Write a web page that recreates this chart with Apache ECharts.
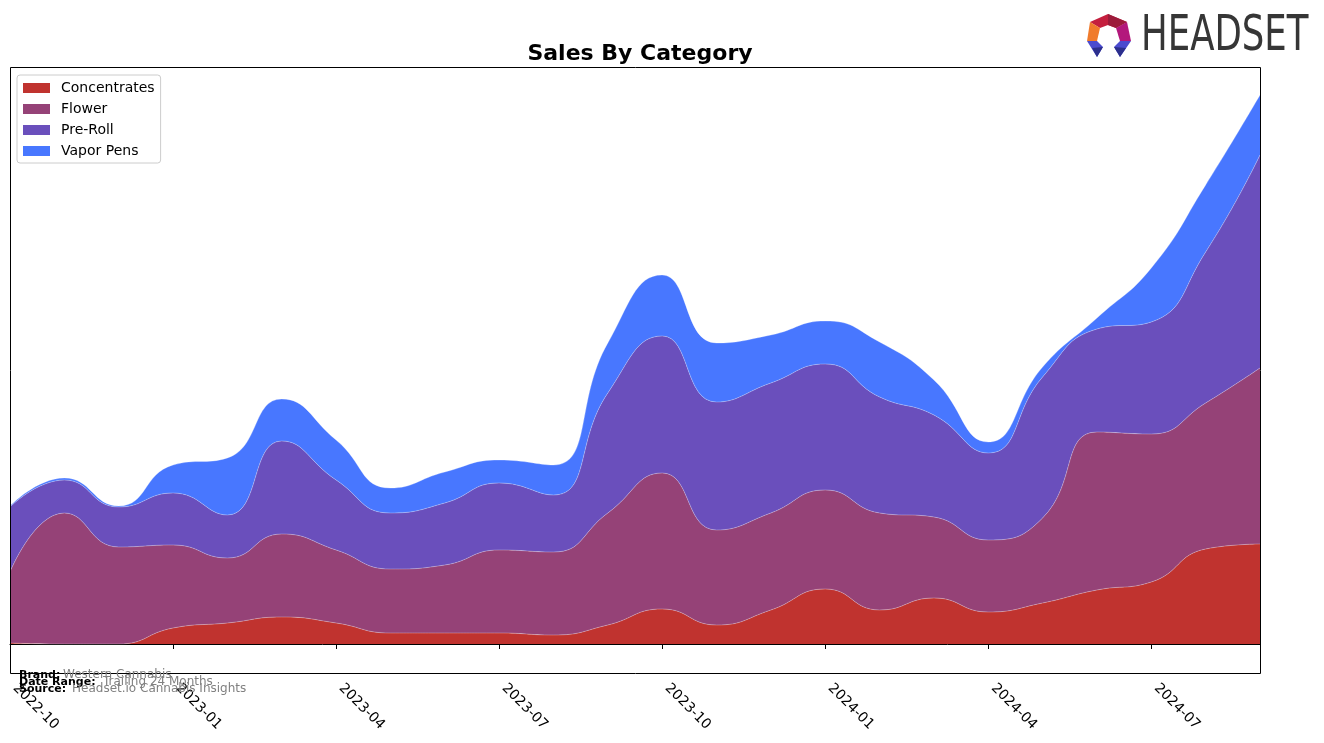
<!DOCTYPE html>
<html>
<head>
<meta charset="utf-8">
<script src="https://cdn.jsdelivr.net/npm/echarts@6/dist/echarts.min.js"></script>
<style>
html,body{margin:0;padding:0;background:#fff;}
#chart{width:1324px;height:743px;}
</style>
</head>
<body>
<div id="chart"></div>
<script>
const months = ['2022-10','2022-11','2022-12','2023-01','2023-02','2023-03','2023-04','2023-05','2023-06','2023-07','2023-08','2023-09','2023-10','2023-11','2023-12','2024-01','2024-02','2024-03','2024-04','2024-05','2024-06','2024-07','2024-08','2024-09'];
const tickLabels = ['2022-10','2023-01','2023-04','2023-07','2023-10','2024-01','2024-04','2024-07'];
const seriesNames = ['Concentrates','Flower','Pre-Roll','Vapor Pens'];
const concentrates = [1, 0, 0, 16, 21, 27, 21, 11, 11, 11, 9, 19, 35, 19, 34, 55, 34, 46, 32, 41, 54, 62, 95, 100];
const flower       = [71, 131, 97, 83, 65, 83, 73, 64, 68, 83, 83, 112, 136, 95, 97, 99, 97, 81, 72, 85, 158, 148, 146, 176];
const preRoll      = [65, 33, 40, 52, 43, 93, 70, 56, 62, 67, 57, 120, 137, 128, 130, 126, 116, 102, 87, 141, 103, 112, 151, 213];
const vaporPens    = [1, 2, 1, 28, 57, 42, 40, 25, 31, 23, 30, 50, 61, 59, 48, 43, 55, 35, 11, 10, 11, 54, 67, 60];

const colors = ['#c0332f', '#954277', '#6a4fbc', '#4877ff'];
const dataList = [concentrates, flower, preRoll, vaporPens];
const FONT = 'DejaVu Sans';

const chart = echarts.init(document.getElementById('chart'), null, {renderer: 'canvas'});

const series = seriesNames.map((name, i) => ({
  name: name,
  type: 'line',
  stack: 'total',
  smooth: 0.5,
  symbol: 'none',
  data: dataList[i],
  lineStyle: {width: 0.8, color: 'rgba(255,255,255,0.35)'},
  areaStyle: {color: colors[i], opacity: 1},
  itemStyle: {color: colors[i]},
  emphasis: {disabled: true},
  z: 2
}));

const option = {
  animation: false,
  backgroundColor: '#ffffff',
  title: {
    text: 'Sales By Category',
    left: 635,
    textAlign: 'center',
    top: 38,
    textStyle: {fontFamily: FONT, fontSize: 22, fontWeight: 'bold', color: '#000'}
  },
  legend: {
    orient: 'vertical',
    left: 17,
    top: 75,
    data: seriesNames,
    icon: 'rect',
    itemWidth: 27,
    itemHeight: 10,
    itemGap: 7,
    padding: [6, 6, 5, 6],
    backgroundColor: '#fff',
    borderColor: '#cccccc',
    borderWidth: 1,
    borderRadius: 3,
    selectedMode: false,
    textStyle: {fontFamily: FONT, fontSize: 14, color: '#000', padding: [0, 0, 0, 6]}
  },
  grid: {
    left: 10, right: 64, top: 67, bottom: 70,
    containLabel: false,
    show: false
  },
  xAxis: {
    type: 'category',
    data: months,
    boundaryGap: false,
    axisLine: {show: true, lineStyle: {color: '#000', width: 1}},
    axisTick: {
      show: true,
      length: 5,
      lineStyle: {color: '#000'},
      interval: (idx, val) => tickLabels.indexOf(val) >= 0
    },
    axisLabel: {
      show: true,
      rotate: -45,
      margin: 8,
      padding: [0, 0, 0, 7],
      fontFamily: FONT,
      fontSize: 14,
      color: '#000',
      interval: (idx, val) => tickLabels.indexOf(val) >= 0
    },
    splitLine: {show: false}
  },
  yAxis: {
    type: 'value',
    min: -29,
    max: 577,
    show: false,
    splitLine: {show: false}
  },
  series: series,
  graphic: [
    {
      type: 'rect', z: 100, silent: true,
      shape: {x: 10.5, y: 67.5, width: 1250, height: 606},
      style: {fill: null, stroke: '#000', lineWidth: 1}
    },
    {type: 'text', z: 101, left: 19, top: 670, style: {text: 'Brand:', font: 'bold 11px "DejaVu Sans"', fill: '#000'}},
    {type: 'text', z: 101, left: 63, top: 669, style: {text: 'Western Cannabis', font: '12px "DejaVu Sans"', fill: '#808080'}},
    {type: 'text', z: 101, left: 19, top: 677, style: {text: 'Date Range:', font: 'bold 11px "DejaVu Sans"', fill: '#000'}},
    {type: 'text', z: 101, left: 103, top: 676, style: {text: 'Trailing 24 Months', font: '12px "DejaVu Sans"', fill: '#808080'}},
    {type: 'text', z: 101, left: 19, top: 684, style: {text: 'Source:', font: 'bold 11px "DejaVu Sans"', fill: '#000'}},
    {type: 'text', z: 101, left: 72, top: 683, style: {text: 'Headset.io Cannabis Insights', font: '12px "DejaVu Sans"', fill: '#808080'}},
    // Headset logo
    {type: 'polygon', z: 101, silent: true, shape: {points: [[1090,22],[1108,14],[1127,22],[1116,28],[1108,25],[1100,28]]}, style: {fill: '#c41f3e'}},
    {type: 'polygon', z: 102, silent: true, shape: {points: [[1108,14],[1127,22],[1116,28],[1108,25]]}, style: {fill: '#9c1b3b'}},
    {type: 'polygon', z: 101, silent: true, shape: {points: [[1090,22],[1100,28],[1097,41],[1087,41]]}, style: {fill: '#f07b2c'}},
    {type: 'polygon', z: 101, silent: true, shape: {points: [[1127,22],[1131,41],[1120,41],[1116,28]]}, style: {fill: '#b3187c'}},
    {type: 'polygon', z: 101, silent: true, shape: {points: [[1087,41],[1097,41],[1103,47],[1097,57]]}, style: {fill: '#4b4bcf'}},
    {type: 'polygon', z: 102, silent: true, shape: {points: [[1092,48],[1103,47],[1097,57]]}, style: {fill: '#2c2f8c'}},
    {type: 'polygon', z: 101, silent: true, shape: {points: [[1114,47],[1120,41],[1131,41],[1120,57]]}, style: {fill: '#4b4bcf'}},
    {type: 'polygon', z: 102, silent: true, shape: {points: [[1114,47],[1126,48],[1120,57]]}, style: {fill: '#2c2f8c'}},
    {
      type: 'text', z: 101, silent: true,
      x: 1141, y: 37, scaleX: 0.725,
      style: {text: 'HEADSET', font: '49px "DejaVu Sans"', fill: '#363636', verticalAlign: 'middle', align: 'left'}
    }
  ]
};
chart.setOption(option);
</script>
</body>
</html>
